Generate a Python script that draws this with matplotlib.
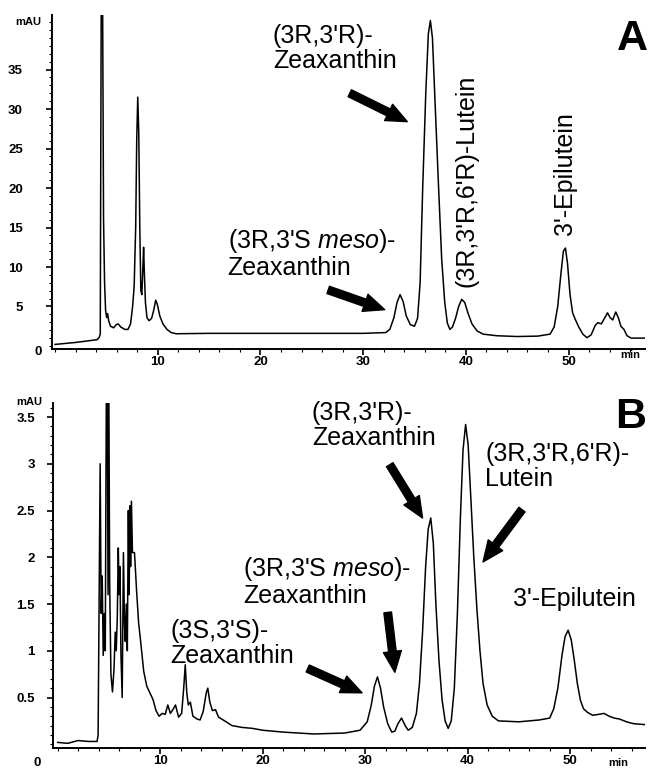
#!/usr/bin/env python3

import matplotlib
matplotlib.use("Agg")
import matplotlib.pyplot as plt
from matplotlib.ticker import MultipleLocator

# chromatogram A (retention time in min, absorbance in mAU)
time_a = [0, 2, 4.1, 4.3, 4.4, 4.5, 4.62, 4.72, 4.82, 4.92, 5.02, 5.12, 5.22, 5.4,
          5.7, 5.95, 6.15, 6.4, 6.8, 7.1, 7.35, 7.55, 7.7, 7.85, 7.95, 8.05, 8.15,
          8.25, 8.35, 8.45, 8.55, 8.62, 8.7, 8.8, 8.95, 9.15, 9.4, 9.6, 9.8, 9.95,
          10.2, 10.5, 10.9, 11.3, 11.8, 15, 20, 25, 30, 32.2, 32.6, 33.0, 33.3,
          33.6, 33.9, 34.2, 34.6, 35.0, 35.3, 35.55, 35.8, 36.1, 36.35, 36.55,
          36.75, 37.0, 37.35, 37.65, 37.95, 38.2, 38.45, 38.7, 39.0, 39.3, 39.6,
          39.9, 40.2, 40.6, 41.1, 41.7, 43, 45, 47, 48.2, 48.6, 48.95, 49.25,
          49.5, 49.7, 49.9, 50.15, 50.4, 50.65, 51.0, 51.4, 51.8, 52.2, 52.6,
          52.85, 53.2, 53.5, 53.8, 54.05, 54.3, 54.6, 54.85, 55.1, 55.4, 55.7,
          56.1, 57.5]
mau_a = [0.2, 0.45, 0.8, 1.1, 1.5, 46, 46, 16, 8, 4.5, 3.6, 4.1, 3.2, 2.5,
         2.3, 2.7, 2.8, 2.4, 2.1, 2.1, 2.8, 5, 7.5, 15, 26, 31.5, 27,
         15, 7, 6.5, 10, 12.5, 9, 5.5, 3.6, 3.2, 3.5, 4.5, 5.8, 5.3,
         3.8, 2.8, 2.1, 1.7, 1.55, 1.6, 1.6, 1.6, 1.6, 1.7, 2.1, 3.6, 5.5,
         6.5, 5.6, 3.8, 2.7, 2.5, 3.5, 8, 20, 32, 39.5, 41.2,
         39, 31, 20, 11, 5.5, 2.9, 2.1, 2.4, 3.5, 5.0, 5.9,
         5.5, 4.2, 2.8, 1.9, 1.5, 1.3, 1.2, 1.25, 1.5, 2.4, 5.0, 9,
         12, 12.4, 10.5, 6.5, 4.2, 3.4, 2.4, 1.5, 1.05, 1.4, 2.6,
         2.95, 2.8, 3.5, 4.2, 3.6, 3.3, 4.3, 3.6, 2.5, 2.1, 1.3,
         1.0, 1.0]

# chromatogram B
time_b = [0, 1, 2, 3, 3.85, 3.95, 4.05, 4.15, 4.25, 4.35, 4.45, 4.55, 4.65,
          4.75, 4.85, 4.92, 5.0, 5.08, 5.2, 5.35, 5.5, 5.62, 5.72, 5.82, 5.92,
          6.0, 6.08, 6.18, 6.3, 6.35, 6.42, 6.52, 6.6, 6.7, 6.8, 6.9, 6.98,
          7.05, 7.12, 7.2, 7.3, 7.5, 7.7, 7.9, 8.1, 8.4, 8.7, 9.0, 9.3, 9.6,
          9.9, 10.2, 10.5, 10.75, 11.0, 11.3, 11.5, 11.8, 12.1, 12.3, 12.45,
          12.6, 12.75, 12.95, 13.2, 13.6, 13.9, 14.2, 14.5, 14.65, 14.85, 15.1,
          15.4, 15.7, 16.3, 17, 18, 19, 20, 22, 25, 28, 29.5, 30.2, 30.6, 30.9,
          31.2, 31.5, 31.8, 32.2, 32.6, 32.9, 33.2, 33.55, 33.9, 34.2, 34.6,
          35.0, 35.3, 35.6, 35.9, 36.15, 36.4, 36.65, 36.9, 37.2, 37.5, 37.8,
          38.1, 38.4, 38.7, 39.0, 39.3, 39.55, 39.8, 40.05, 40.3, 40.6, 40.9,
          41.2, 41.5, 41.9, 42.4, 43, 45, 47, 48.0, 48.4, 48.8, 49.2, 49.5,
          49.8, 50.1, 50.4, 50.7, 51.0, 51.3, 51.7, 52.2, 52.8, 53.3, 53.8,
          54.3, 54.8, 55.5, 56.2, 57.3]
mau_b = [0.02, 0.01, 0.04, 0.03, 0.03, 0.1, 1.5, 3.0, 1.4, 1.8, 0.95, 1.4, 1.0,
         3.7, 3.7, 1.6, 3.7, 1.7, 0.75, 0.56, 0.8, 1.2, 1.0, 1.35, 2.1,
         1.6, 1.9, 0.95, 0.5, 1.2, 2.05, 1.3, 1.1, 1.5, 1.0, 2.5, 1.6,
         2.55, 1.9, 2.6, 2.05, 2.05, 1.65, 1.3, 1.1, 0.78, 0.62, 0.55, 0.48, 0.36,
         0.3, 0.33, 0.32, 0.42, 0.33, 0.38, 0.42, 0.29, 0.33, 0.6, 0.85,
         0.55, 0.42, 0.45, 0.3, 0.27, 0.26, 0.35, 0.55, 0.6, 0.45, 0.36,
         0.37, 0.29, 0.25, 0.2, 0.18, 0.17, 0.15, 0.13, 0.11, 0.12, 0.15, 0.24, 0.42, 0.62,
         0.72, 0.6, 0.4, 0.22, 0.13, 0.14, 0.22, 0.28, 0.2, 0.15, 0.18,
         0.33, 0.65, 1.2, 1.9, 2.3, 2.42, 2.15, 1.5, 0.9, 0.48, 0.25,
         0.17, 0.25, 0.6, 1.4, 2.45, 3.15, 3.42, 3.2, 2.65, 2.0, 1.45,
         1.0, 0.65, 0.42, 0.3, 0.25, 0.24, 0.26, 0.28, 0.38, 0.6, 0.95, 1.15,
         1.22, 1.12, 0.9, 0.65, 0.47, 0.38, 0.34, 0.31, 0.32, 0.33, 0.3,
         0.28, 0.27, 0.24, 0.22, 0.21]

# tick labels
x_ticks = [10, 20, 30, 40, 50]
y_ticks_a = [5, 10, 15, 20, 25, 30, 35]
y_ticks_b = [0.5, 1, 1.5, 2, 2.5, 3, 3.5]
y_ticklabels_b = ["0.5", "1", "1.5", "2", "2.5", "3", "3.5"]

# peak labels: (text, x, y) in data units, and arrows (tail, tip)
labels_a = [("(3R,3'R)-\nZeaxanthin", 21.2, 40.8),
            ("(3R,3'S $\\mathit{meso}$)-\nZeaxanthin", 16.8, 15.1)]
vlabels_a = [("(3R,3'R,6'R)-Lutein", 40.1, 7.5),
             ("3'-Epilutein", 49.7, 14.0)]
arrows_a = [((28.7, 32.0), (34.3, 28.4)),
            ((26.6, 7.1), (32.1, 4.6))]

labels_b = [("(3R,3'R)-\nZeaxanthin", 24.8, 3.67),
            ("(3R,3'R,6'R)-\nLutein", 41.7, 3.23),
            ("(3R,3'S $\\mathit{meso}$)-\nZeaxanthin", 18.1, 2.02),
            ("(3S,3'S)-\nZeaxanthin", 11.0, 1.34),
            ("3'-Epilutein", 44.4, 1.68)]
arrows_b = [((32.4, 2.99), (35.6, 2.42)),
            ((45.3, 2.51), (41.5, 1.95)),
            ((32.2, 1.41), (32.9, 0.77)),
            ((24.4, 0.81), (29.7, 0.55))]

W, H = 648, 768
LABEL_FONT = "Liberation Sans"


def style_axes(ax, yticks, yticklabels, yminor, ypad):
    for s in ("top", "right"):
        ax.spines[s].set_visible(False)
    for s in ("left", "bottom"):
        ax.spines[s].set_linewidth(1.4)
    ax.set_xticks(x_ticks)
    ax.set_xticklabels([str(t) for t in x_ticks])
    ax.xaxis.set_minor_locator(MultipleLocator(2))
    ax.set_yticks(yticks)
    ax.set_yticklabels(yticklabels)
    ax.yaxis.set_minor_locator(MultipleLocator(yminor))
    ax.tick_params(which="major", direction="out", length=4, width=1.2)
    ax.tick_params(which="minor", direction="out", length=2, width=0.8)
    ax.tick_params(axis="x", pad=1)
    ax.tick_params(axis="y", pad=ypad)
    for lab in ax.get_xticklabels() + ax.get_yticklabels():
        lab.set_fontweight("bold")
        lab.set_fontsize(9.5)
        lab.set_family(LABEL_FONT)


def draw_arrows(ax, arrows):
    for tail, tip in arrows:
        ax.annotate("", xy=tip, xytext=tail,
                    arrowprops=dict(arrowstyle="simple,head_width=1.3,head_length=1.5,tail_width=0.55",
                                    fc="k", ec="k", shrinkA=0, shrinkB=0,
                                    mutation_scale=10))


def main():
    plt.rcParams["font.family"] = LABEL_FONT
    plt.rcParams["mathtext.fontset"] = "custom"
    plt.rcParams["mathtext.rm"] = LABEL_FONT
    plt.rcParams["mathtext.it"] = LABEL_FONT + ":italic"

    fig = plt.figure(figsize=(W / 100, H / 100), dpi=100)

    # panel A
    ax_a = fig.add_axes([52 / W, 1 - 349 / H, (645 - 52) / W, (349 - 15) / H])
    ax_a.plot(time_a, mau_a, color="k", lw=1.1)
    ax_a.set_xlim(-0.3, 57.45)
    ax_a.set_ylim(-0.38, 41.9)
    style_axes(ax_a, y_ticks_a, [str(t) for t in y_ticks_a], 1, 17)
    for txt, x, y in labels_a:
        ax_a.text(x, y, txt, fontsize=18, ha="left", va="top", linespacing=1.05)
    for txt, x, y in vlabels_a:
        ax_a.text(x, y, txt, fontsize=18, ha="center", va="bottom", rotation=90)
    draw_arrows(ax_a, arrows_a)

    # panel B
    ax_b = fig.add_axes([53 / W, 1 - 748 / H, (645 - 53) / W, (748 - 403) / H])
    ax_b.plot(time_b, mau_b, color="k", lw=1.1)
    ax_b.set_xlim(-0.45, 57.3)
    ax_b.set_ylim(-0.04, 3.65)
    style_axes(ax_b, y_ticks_b, y_ticklabels_b, 0.1, 9)
    for txt, x, y in labels_b:
        ax_b.text(x, y, txt, fontsize=18, ha="left", va="top", linespacing=1.05)
    draw_arrows(ax_b, arrows_b)

    # axis captions, placed like the original
    bold = dict(fontweight="bold", fontsize=8, family=LABEL_FONT)
    fig.text(28 / W, 1 - 22 / H, "mAU", ha="center", va="center", **bold)
    fig.text(29 / W, 1 - 402 / H, "mAU", ha="center", va="center", **bold)
    fig.text(630 / W, 1 - 355 / H, "min", ha="center", va="center", **bold)
    fig.text(618 / W, 1 - 763 / H, "min", ha="center", va="center", **bold)
    fig.text(38 / W, 1 - 352 / H, "0", ha="center", va="center",
             fontweight="bold", fontsize=9.5, family=LABEL_FONT)
    fig.text(37 / W, 1 - 763 / H, "0", ha="center", va="center",
             fontweight="bold", fontsize=9.5, family=LABEL_FONT)

    fig.text(632 / W, 1 - 39 / H, "A", ha="center", va="center",
             fontweight="bold", fontsize=31, family=LABEL_FONT)
    fig.text(631 / W, 1 - 417 / H, "B", ha="center", va="center",
             fontweight="bold", fontsize=31, family=LABEL_FONT)

    fig.savefig("out.png", dpi=100)
    plt.close(fig)


if __name__ == '__main__':
    main()
